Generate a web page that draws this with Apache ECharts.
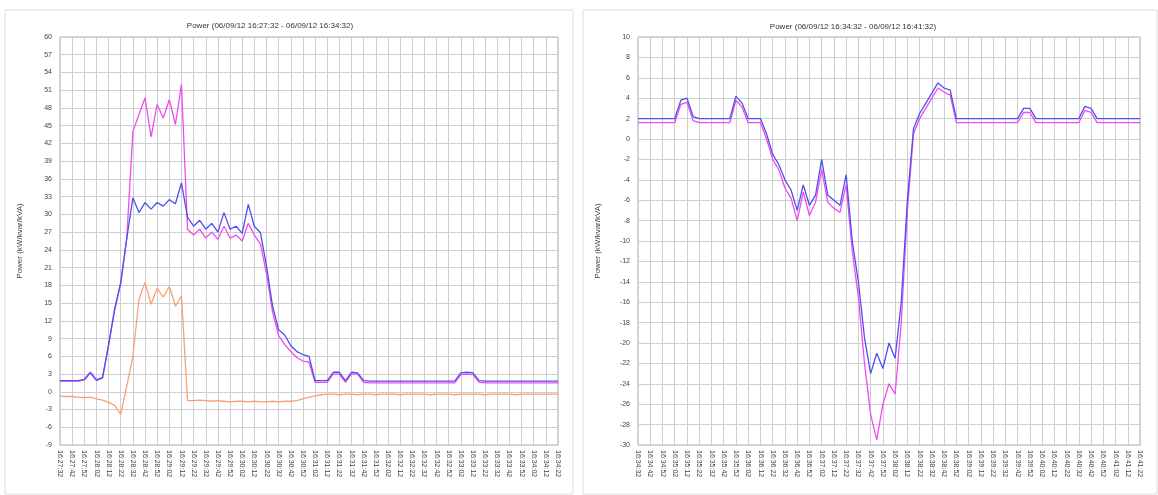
<!DOCTYPE html>
<html>
<head>
<meta charset="utf-8">
<style>
  html, body { margin: 0; padding: 0; background: #fff; }
  #main { width: 1158px; height: 495px; }
</style>
<script src="https://cdn.jsdelivr.net/npm/echarts@6/dist/echarts.min.js"></script>
</head>
<body>
<div id="main"></div>
<script>
// titles
var leftTitle = 'Power (06/09/12 16:27:32 - 06/09/12 16:34:32)'
var rightTitle = 'Power (06/09/12 16:34:32 - 06/09/12 16:41:32)'
var yName = 'Power (kW/kvar/kVA)'

// one sample every 5 s, labels every 10 s
var leftStart = '16:27:32'
var rightStart = '16:34:32'
var sampleCount = 83

// left chart series (kW / kvar / kVA)
var leftBlue = [
  1.9, 1.9, 1.9, 1.9, 2.1, 3.3, 2.0, 2.4, 8.0, 14.0,
  18.5, 26.0, 32.8, 30.3, 32.0, 30.9, 32.0, 31.4, 32.5, 31.8,
  35.3, 29.5, 28.0, 29.0, 27.5, 28.5, 27.0, 30.3, 27.5, 28.0,
  26.8, 31.7, 28.0, 26.9, 21.3, 14.5, 10.5, 9.6, 7.8, 6.8,
  6.3, 6.0, 1.9, 1.9, 1.9, 3.3, 3.3, 1.9, 3.3, 3.2,
  1.9, 1.8, 1.8, 1.8, 1.8, 1.8, 1.8, 1.8, 1.8, 1.8,
  1.8, 1.8, 1.8, 1.8, 1.8, 1.8, 3.2, 3.3, 3.2, 1.9,
  1.8, 1.8, 1.8, 1.8, 1.8, 1.8, 1.8, 1.8, 1.8, 1.8,
  1.8, 1.8, 1.8
]
var leftPink = [
  1.8, 1.8, 1.8, 1.8, 2.0, 3.2, 1.9, 2.3, 7.8, 13.8,
  18.3, 26.0, 44.0, 46.9, 49.7, 43.1, 48.6, 46.3, 49.4, 45.2,
  52.0, 27.5, 26.5, 27.5, 26.0, 27.0, 25.8, 28.0, 26.0, 26.5,
  25.5, 28.5, 26.5, 25.0, 20.0, 13.5, 9.5, 8.0, 6.8, 5.8,
  5.2, 5.0, 1.6, 1.6, 1.6, 3.0, 3.0, 1.6, 3.0, 3.0,
  1.6, 1.5, 1.5, 1.5, 1.5, 1.5, 1.5, 1.5, 1.5, 1.5,
  1.5, 1.5, 1.5, 1.5, 1.5, 1.5, 2.9, 3.0, 2.9, 1.6,
  1.5, 1.5, 1.5, 1.5, 1.5, 1.5, 1.5, 1.5, 1.5, 1.5,
  1.5, 1.5, 1.5
]
var leftOrange = [
  -0.7, -0.8, -0.8, -0.9, -1.0, -0.9, -1.2, -1.4, -1.8, -2.3,
  -3.8, 1.0, 6.0, 15.6, 18.5, 14.8, 17.5, 16.0, 17.8, 14.5,
  16.2, -1.5, -1.5, -1.4, -1.5, -1.6, -1.5, -1.6, -1.7, -1.6,
  -1.6, -1.7, -1.6, -1.7, -1.7, -1.6, -1.7, -1.6, -1.6, -1.5,
  -1.2, -0.9, -0.7, -0.5, -0.4, -0.4, -0.5, -0.4, -0.4, -0.5,
  -0.4, -0.4, -0.5, -0.4, -0.4, -0.4, -0.5, -0.4, -0.4, -0.4,
  -0.4, -0.5, -0.4, -0.4, -0.4, -0.5, -0.4, -0.4, -0.4, -0.4,
  -0.5, -0.4, -0.4, -0.4, -0.4, -0.5, -0.4, -0.4, -0.4, -0.4,
  -0.4, -0.4, -0.4
]

// right chart series
var rightBlue = [
  2.0, 2.0, 2.0, 2.0, 2.0, 2.0, 2.0, 3.8, 4.0, 2.2,
  2.0, 2.0, 2.0, 2.0, 2.0, 2.0, 4.2, 3.5, 2.0, 2.0,
  2.0, 0.5, -1.5, -2.5, -4.0, -5.0, -7.0, -4.5, -6.5, -5.5,
  -2.0, -5.5, -6.0, -6.5, -3.5, -10.0, -14.0, -19.5, -23.0, -21.0,
  -22.5, -20.0, -21.5, -16.0, -6.0, 1.0, 2.5, 3.5, 4.5, 5.5,
  5.0, 4.8, 2.0, 2.0, 2.0, 2.0, 2.0, 2.0, 2.0, 2.0,
  2.0, 2.0, 2.0, 3.0, 3.0, 2.0, 2.0, 2.0, 2.0, 2.0,
  2.0, 2.0, 2.0, 3.2, 3.0, 2.0, 2.0, 2.0, 2.0, 2.0,
  2.0, 2.0, 2.0
]
var rightPink = [
  1.6, 1.6, 1.6, 1.6, 1.6, 1.6, 1.6, 3.4, 3.6, 1.8,
  1.6, 1.6, 1.6, 1.6, 1.6, 1.6, 3.8, 3.1, 1.6, 1.6,
  1.6, 0.0, -2.0, -3.0, -4.8, -5.8, -8.0, -5.2, -7.5, -6.2,
  -3.0, -6.2, -6.8, -7.2, -4.5, -11.0, -15.5, -22.0, -27.0, -29.5,
  -26.0, -24.0, -25.0, -18.0, -7.0, 0.5, 2.0, 3.0, 4.0, 5.0,
  4.6, 4.3, 1.6, 1.6, 1.6, 1.6, 1.6, 1.6, 1.6, 1.6,
  1.6, 1.6, 1.6, 2.6, 2.6, 1.6, 1.6, 1.6, 1.6, 1.6,
  1.6, 1.6, 1.6, 2.8, 2.6, 1.6, 1.6, 1.6, 1.6, 1.6,
  1.6, 1.6, 1.6
]

var colors = { blue: '#4f4ff0', pink: '#ee4cee', orange: '#f6a272' }

function buildTimes(start, n) {
  var p = start.split(':').map(Number)
  var t = p[0] * 3600 + p[1] * 60 + p[2]
  var out = []
  for (var k = 0; k < n; k++) {
    var s = t + k * 5
    var hh = Math.floor(s / 3600), mm = Math.floor(s / 60) % 60, ss = s % 60
    out.push([hh, mm, ss].map(function (v) { return (v < 10 ? '0' : '') + v }).join(':'))
  }
  return out
}

var leftTimes = buildTimes(leftStart, sampleCount)
var rightTimes = buildTimes(rightStart, sampleCount)

var font = 'Liberation Sans, Arial, sans-serif'

function xAxisCfg(idx, data) {
  return {
    type: 'category', gridIndex: idx, data: data, boundaryGap: false,
    axisLine: { show: false },
    axisTick: { show: false },
    axisLabel: { interval: 1, rotate: -90, fontSize: 7, color: '#444', fontFamily: font, margin: 5 },
    splitLine: { show: true, interval: 1, lineStyle: { color: '#cfcfcf', width: 1 } }
  }
}
function yAxisCfg(idx, min, max, step) {
  return {
    type: 'value', gridIndex: idx, min: min, max: max, interval: step,
    name: yName, nameLocation: 'middle', nameGap: 36, nameRotate: 90,
    nameTextStyle: { fontSize: 8, color: '#444', fontFamily: font },
    axisLine: { show: false },
    axisTick: { show: false },
    axisLabel: { fontSize: 7, color: '#444', fontFamily: font, margin: 8 },
    splitLine: { show: true, lineStyle: { color: '#cfcfcf', width: 1 } }
  }
}
function line(xi, data, color, z) {
  return {
    type: 'line', xAxisIndex: xi, yAxisIndex: xi, data: data, symbol: 'none',
    lineStyle: { color: color, width: 1.3 }, z: z, animation: false
  }
}

var gridBorder = { show: true, borderColor: '#aaa', borderWidth: 1 }

var chart = echarts.init(document.getElementById('main'))
chart.setOption({
  animation: false,
  backgroundColor: '#fff',
  graphic: [
    { type: 'rect', shape: { x: 5, y: 10, width: 568, height: 484 }, style: { fill: 'none', stroke: '#dcdcdc', lineWidth: 1 }, z: -1 },
    { type: 'rect', shape: { x: 583, y: 10, width: 574, height: 484 }, style: { fill: 'none', stroke: '#dcdcdc', lineWidth: 1 }, z: -1 }
  ],
  title: [
    { text: leftTitle, left: 265, top: 17, textAlign: 'center', textStyle: { fontSize: 8, fontWeight: 'normal', color: '#333', fontFamily: font } },
    { text: rightTitle, left: 848, top: 18, textAlign: 'center', textStyle: { fontSize: 8, fontWeight: 'normal', color: '#333', fontFamily: font } }
  ],
  grid: [
    Object.assign({ left: 60, right: 600, top: 37, bottom: 50 }, gridBorder),
    Object.assign({ left: 638, right: 18, top: 37, bottom: 50 }, gridBorder)
  ],
  xAxis: [xAxisCfg(0, leftTimes), xAxisCfg(1, rightTimes)],
  yAxis: [yAxisCfg(0, -9, 60, 3), yAxisCfg(1, -30, 10, 2)],
  series: [
    line(0, leftOrange, colors.orange, 2),
    line(0, leftPink, colors.pink, 3),
    line(0, leftBlue, colors.blue, 4),
    line(1, rightPink, colors.pink, 3),
    line(1, rightBlue, colors.blue, 4)
  ]
})
</script>
</body>
</html>
